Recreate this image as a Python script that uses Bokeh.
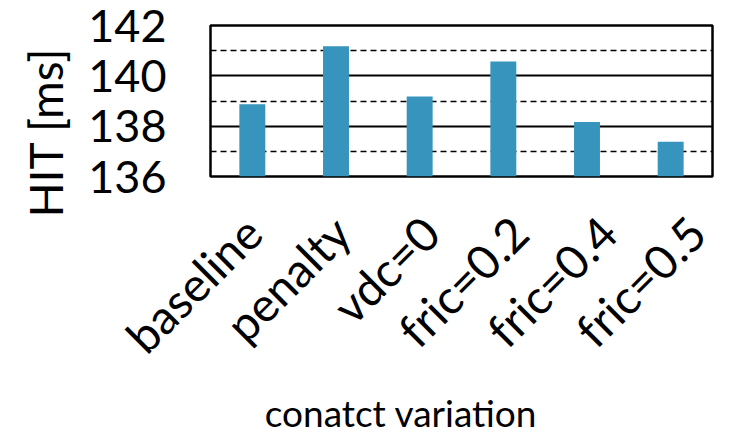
import math
from bokeh.plotting import figure
from bokeh.models import Range1d, FixedTicker, Title, ColumnDataSource, LinearAxis
from bokeh.embed import file_html
from bokeh.resources import INLINE

categories = ["baseline", "penalty", "vdc=0", "fric=0.2", "fric=0.4", "fric=0.5"]
hit_ms = [138.87, 141.18, 139.18, 140.57, 138.17, 137.38]
y_ticks = [136, 138, 140, 142]
y_minor = [137, 139, 141]
x_title = "conatct variation"
y_title = "HIT [ms]"

FONT = "Lato"
BAR = "#3694bd"

xs = list(range(len(categories)))
src = ColumnDataSource(dict(x=xs, top=hit_ms, bottom=[y_ticks[0]] * len(xs)))

p = figure(frame_width=502, frame_height=151, output_backend="svg", toolbar_location=None,
           x_range=Range1d(-0.5, len(categories) - 0.5),
           y_range=Range1d(y_ticks[0], y_ticks[-1]),
           x_axis_location=None,
           min_border_left=210, min_border_right=44, min_border_top=25, min_border_bottom=258)

# category labels are spread slightly wider than the bars in the original
p.extra_x_ranges = {"labels": Range1d(-0.4786, 5.1768), "title": Range1d(-0.3795, 0.6205)}

p.vbar(x="x", top="top", bottom="bottom", width=0.31, source=src,
       fill_color=BAR, line_color=None)

p.outline_line_color = "black"
p.outline_line_width = 2.5
p.outline_line_alpha = 1

p.xgrid.grid_line_color = None
p.ygrid.ticker = FixedTicker(ticks=y_ticks, minor_ticks=y_minor)
p.ygrid.grid_line_color = "black"
p.ygrid.grid_line_width = 2
p.ygrid.grid_line_alpha = 1
p.ygrid.minor_grid_line_color = "black"
p.ygrid.minor_grid_line_width = 1.5
p.ygrid.minor_grid_line_dash = "6 4"

p.yaxis.ticker = FixedTicker(ticks=y_ticks, minor_ticks=[])
p.yaxis.major_label_text_font = FONT
p.yaxis.major_label_text_font_size = "45px"
p.yaxis.major_label_text_color = "black"
p.yaxis.major_label_standoff = 38
p.yaxis.major_tick_line_color = None
p.yaxis.minor_tick_line_color = None
p.yaxis.axis_line_color = None

xa = LinearAxis(x_range_name="labels",
                ticker=FixedTicker(ticks=xs, minor_ticks=[]),
                major_label_overrides={i: c for i, c in enumerate(categories)},
                major_label_orientation=math.pi / 4,
                major_label_text_font=FONT,
                major_label_text_font_size="47px",
                major_label_text_color="black",
                major_label_standoff=42,
                major_tick_line_color=None, minor_tick_line_color=None,
                axis_line_color=None)
p.add_layout(xa, "below")

ta = LinearAxis(x_range_name="title",
                ticker=FixedTicker(ticks=[0], minor_ticks=[]),
                major_label_overrides={0: x_title},
                major_label_text_font=FONT,
                major_label_text_font_size="37px",
                major_label_text_color="black",
                major_label_standoff=3,
                major_tick_line_color=None, minor_tick_line_color=None,
                major_tick_out=0, major_tick_in=0,
                axis_line_color=None)
p.add_layout(ta, "below")

p.add_layout(Title(text=y_title, align="left", offset=-41, standoff=26,
                   text_font=FONT, text_font_size="46px", text_font_style="normal",
                   text_color="black"), "left")

open("out.html", "w").write(file_html(p, INLINE))
